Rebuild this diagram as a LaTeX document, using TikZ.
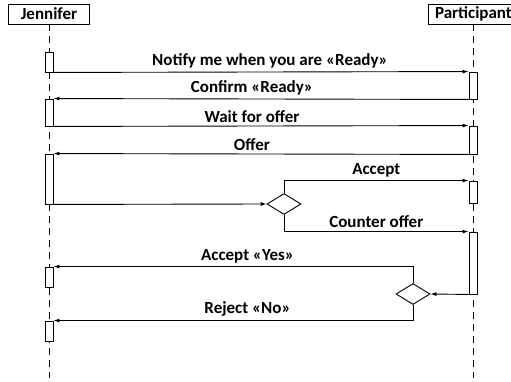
\documentclass[tikz,border=0pt]{standalone}
\usepackage{fontspec}
\setmainfont{Carlito}
\usetikzlibrary{arrows.meta, positioning, shapes, calc}
\tikzset{
  actor/.style={draw, rectangle, line width=0.9pt, minimum height=20pt, inner sep=2pt, align=center, font=\bfseries\fontsize{17}{19}\selectfont},
  lifeline/.style={line width=0.9pt, dash pattern=on 7pt off 5pt},
  act/.style={draw, line width=0.9pt, fill=white, rectangle, minimum width=8pt, inner sep=0pt},
  choice/.style={draw, line width=0.9pt, diamond, fill=white, minimum width=34pt, minimum height=21pt, inner sep=0pt},
  msg/.style={-{Latex[length=6pt, width=4pt]}, line width=0.9pt},
  lbl/.style={above=0pt, font=\bfseries\fontsize{17}{19}\selectfont},
}

\begin{document}
\begin{tikzpicture}[x=1pt, y=-1pt]
  \useasboundingbox (0,0) rectangle (511,382);
  \node[actor, text width=77pt] (jen) at (49,14) {Jennifer};
  \node[actor, text width=86pt, anchor=west] (part) at (428,14) {Participant};
  \coordinate (jenend) at (49,378);
  \coordinate (partend) at (473,378);
  \draw[lifeline] (jen.south) -- (jenend);
  \draw[lifeline] (part.south -| partend) -- (partend);

  \node[act, minimum height=20pt] (ja1) at (49,62) {};
  \node[act, minimum height=27pt] (ja2) at (49,112.5) {};
  \node[act, minimum height=50pt] (ja3) at (49,179) {};
  \node[act, minimum height=20pt] (ja4) at (49,277) {};
  \node[act, minimum height=20pt] (ja5) at (49,331) {};

  \node[act, minimum height=27pt] (pa1) at (473,85.5) {};
  \node[act, minimum height=28pt] (pa2) at (473,140) {};
  \node[act, minimum height=22pt] (pa3) at (473,192) {};
  \node[act, minimum height=62pt] (pa4) at (473,263) {};

  \node[choice] (d1) at (284,204) {};
  \node[choice] (d2) at (413,294) {};

  \draw[msg] (ja1.south east) -- node[lbl, xshift=9pt]{Notify me when you are «Ready»} (pa1.north west);
  \draw[msg] (pa1.south west) -- node[lbl, xshift=-9pt]{Confirm «Ready»} (ja2.north east);
  \draw[msg] (ja2.south east) -- node[lbl, xshift=-9pt]{Wait for offer} (pa2.north west);
  \draw[msg] (pa2.south west) -- node[lbl, xshift=-9pt]{Offer} (ja3.north east);
  \draw[msg] (ja3.south east) -- (d1.west);
  \draw[msg] (d1.north) |- node[lbl, pos=0.75]{Accept} (pa3.north west);
  \draw[msg] (d1.south) |- node[lbl, pos=0.75]{Counter offer} (pa4.north west);
  \draw[msg] (pa4.south west) -- (d2.east);
  \draw[msg] (d2.north) |- node[lbl, pos=0.73]{Accept «Yes»} (ja4.north east);
  \draw[msg] (d2.south) |- node[lbl, pos=0.73]{Reject «No»} (ja5.north east);
\end{tikzpicture}
\end{document}
